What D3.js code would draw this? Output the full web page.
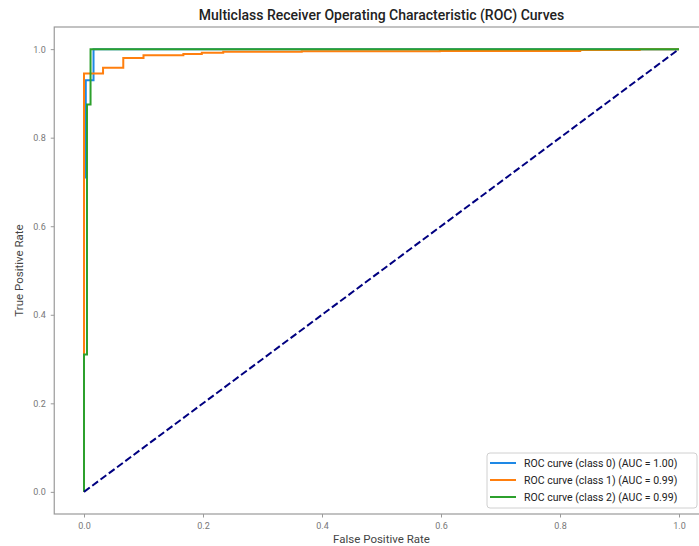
<!DOCTYPE html>
<html>
<head>
<meta charset="utf-8">
<script src="https://cdn.jsdelivr.net/npm/d3@7"></script>
<style>
  body { margin: 0; background: #fff; }
  svg { display: block; font-family: Roboto, "DejaVu Sans", sans-serif; }
</style>
</head>
<body>
<div id="chart"></div>
<script>
// ROC curve points (step curves)
const class0Fpr = [0, 0, 0.003, 0.003, 0.016, 0.016, 1];
const class0Tpr = [0, 0.71, 0.71, 0.93, 0.93, 1, 1];

const class1Fpr = [0, 0, 0.032, 0.032, 0.066, 0.066, 0.1, 0.1, 0.167, 0.167, 0.198, 0.198,
                   0.234, 0.234, 0.366, 0.366, 0.598, 0.598, 0.834, 0.834, 0.934, 0.934, 1];
const class1Tpr = [0, 0.945, 0.945, 0.958, 0.958, 0.98, 0.98, 0.986, 0.986, 0.989, 0.989, 0.992,
                   0.992, 0.994, 0.994, 0.995, 0.995, 0.996, 0.996, 0.998, 0.998, 1, 1];

const class2Fpr = [0, 0, 0.005, 0.005, 0.011, 0.011, 1];
const class2Tpr = [0, 0.31, 0.31, 0.875, 0.875, 1, 1];

const classNames = ["ROC curve (class 0) (AUC = 1.00)",
                    "ROC curve (class 1) (AUC = 0.99)",
                    "ROC curve (class 2) (AUC = 0.99)"];
const colors = ["#1e88e5", "#ff7f0e", "#2ca02c"];
const ticks = [0, 0.2, 0.4, 0.6, 0.8, 1.0];

const width = 699, height = 546;

const svg = d3.select("#chart").append("svg")
    .attr("width", width)
    .attr("height", height);

// axes box (matplotlib default 5% margins, right side runs off the canvas)
const x = d3.scaleLinear().domain([-0.05, 1.05]).range([54.25, 708.75]);
const y = d3.scaleLinear().domain([-0.05, 1.05]).range([514, 27]);

const series = [
    { fpr: class0Fpr, tpr: class0Tpr },
    { fpr: class1Fpr, tpr: class1Tpr },
    { fpr: class2Fpr, tpr: class2Tpr }
];

const line = d3.line().x(d => x(d[0])).y(d => y(d[1]));

// title
svg.append("text")
    .attr("x", (x.range()[0] + x.range()[1]) / 2)
    .attr("y", 19.5)
    .attr("text-anchor", "middle")
    .style("font-size", "14px")
    .style("font-weight", 500)
    .style("fill", "#222")
    .text("Multiclass Receiver Operating Characteristic (ROC) Curves");

// spines
svg.append("rect")
    .attr("x", x.range()[0])
    .attr("y", y.range()[1])
    .attr("width", x.range()[1] - x.range()[0])
    .attr("height", y.range()[0] - y.range()[1])
    .attr("fill", "none")
    .attr("stroke", "#9a9a9a")
    .attr("stroke-width", 1.2);

// x axis
const xAxis = svg.append("g")
    .attr("transform", `translate(0,${y.range()[0]})`)
    .call(d3.axisBottom(x).tickValues(ticks).tickFormat(d3.format(".1f")).tickSize(3.5).tickPadding(5));

// y axis
const yAxis = svg.append("g")
    .attr("transform", `translate(${x.range()[0]},0)`)
    .call(d3.axisLeft(y).tickValues(ticks).tickFormat(d3.format(".1f")).tickSize(3.5).tickPadding(5));

[xAxis, yAxis].forEach(a => {
    a.select(".domain").remove();
    a.selectAll(".tick line").attr("stroke", "#9a9a9a").attr("stroke-width", 1);
    a.selectAll(".tick text").style("fill", "#777").style("font-size", "9px").style("font-family", "Roboto, sans-serif");
});

// axis labels
svg.append("text")
    .attr("x", (x.range()[0] + x.range()[1]) / 2)
    .attr("y", 543)
    .attr("text-anchor", "middle")
    .style("font-size", "11.5px")
    .style("fill", "#444")
    .text("False Positive Rate");

svg.append("text")
    .attr("transform", `translate(23,${(y.range()[0] + y.range()[1]) / 2}) rotate(-90)`)
    .attr("text-anchor", "middle")
    .style("font-size", "11.5px")
    .style("fill", "#444")
    .text("True Positive Rate");

// curves
series.forEach((s, i) => {
    svg.append("path")
        .datum(d3.zip(s.fpr, s.tpr))
        .attr("fill", "none")
        .attr("stroke", colors[i])
        .attr("stroke-width", 2)
        .attr("d", line);
});

// chance line
svg.append("path")
    .datum([[0, 0], [1, 1]])
    .attr("fill", "none")
    .attr("stroke", "navy")
    .attr("stroke-width", 2)
    .attr("stroke-dasharray", "7.2,3.1")
    .attr("d", line);

// legend
const legend = svg.append("g").attr("transform", "translate(487,453)");
legend.append("rect")
    .attr("width", 210)
    .attr("height", 55)
    .attr("rx", 3)
    .attr("fill", "rgba(255,255,255,0.85)")
    .attr("stroke", "#d0d0d0");

classNames.forEach((name, i) => {
    const row = legend.append("g").attr("transform", `translate(0,${10 + i * 17})`);
    row.append("line")
        .attr("x1", 3).attr("x2", 29)
        .attr("stroke", colors[i])
        .attr("stroke-width", 2);
    row.append("text")
        .attr("x", 37)
        .attr("dy", "0.35em")
        .style("font-size", "10.5px")
        .style("fill", "#222")
        .text(name);
});
</script>
</body>
</html>
